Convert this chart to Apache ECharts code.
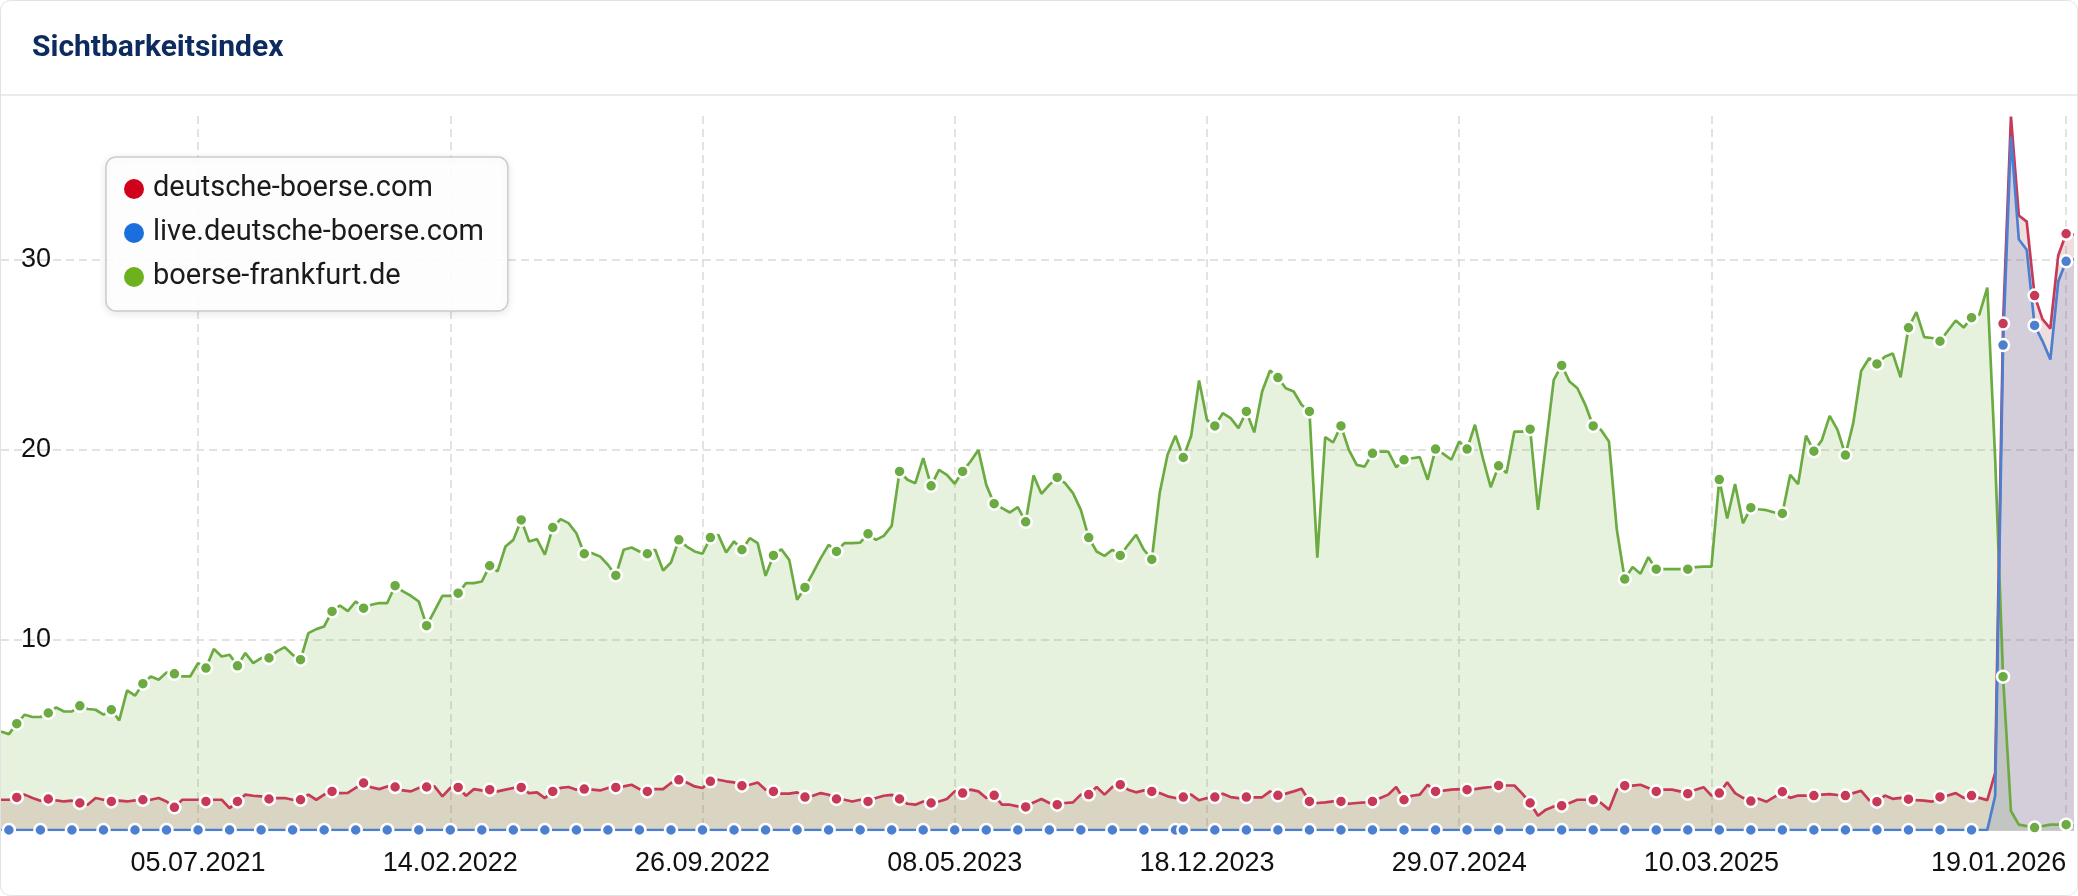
<!DOCTYPE html>
<html><head><meta charset="utf-8">
<script src="https://cdn.jsdelivr.net/npm/echarts@6/dist/echarts.min.js"></script>
<style>html,body{margin:0;padding:0;background:#fff}#chart{width:2078px;height:896px}</style>
</head><body><div id="chart"></div>
<script>
const titleText = 'Sichtbarkeitsindex';
const seriesNames = ['deutsche-boerse.com', 'live.deutsche-boerse.com', 'boerse-frankfurt.de'];
const tickLabels = ['05.07.2021', '14.02.2022', '26.09.2022', '08.05.2023', '18.12.2023', '29.07.2024', '10.03.2025', '19.01.2026'];
const yTicks = [10, 20, 30];
const firstWeek = [2021, 1, 11]; // first weekly data point (Monday)

const boerseFrankfurt = [
  5.18, 5.04, 5.59, 6.06, 5.94, 5.94, 6.15, 6.44, 6.23, 6.23,
  6.53, 6.36, 6.32, 6.06, 6.32, 5.76, 7.34, 7.06, 7.69, 8.07,
  7.90, 8.28, 8.21, 8.07, 8.07, 8.77, 8.51, 9.51, 9.12, 9.21,
  8.63, 9.30, 8.77, 9.04, 9.04, 9.39, 9.61, 9.21, 8.95, 10.35,
  10.56, 10.70, 11.49, 11.80, 11.50, 12.01, 11.66, 11.84, 11.93, 11.93,
  12.84, 12.54, 12.31, 12.01, 10.74, 11.52, 12.31, 12.31, 12.45, 12.98,
  12.98, 13.06, 13.89, 13.59, 14.90, 15.25, 16.30, 15.16, 15.29, 14.47,
  15.90, 16.34, 16.13, 15.60, 14.52, 14.55, 14.38, 13.94, 13.38, 14.73,
  14.85, 14.64, 14.52, 14.73, 13.64, 14.06, 15.25, 14.90, 14.64, 14.52,
  15.37, 15.51, 14.59, 15.17, 14.73, 15.34, 15.08, 13.36, 14.43, 14.76,
  14.20, 12.10, 12.75, 13.50, 14.29, 14.99, 14.64, 15.08, 15.08, 15.11,
  15.57, 15.25, 15.46, 15.99, 18.85, 18.41, 18.23, 19.55, 18.09, 18.93,
  18.67, 18.20, 18.85, 19.37, 19.98, 18.14, 17.15, 16.92, 16.69, 16.97,
  16.20, 18.64, 17.67, 18.14, 18.53, 18.23, 17.71, 16.83, 15.37, 14.64,
  14.41, 14.73, 14.43, 14.99, 15.52, 14.73, 14.22, 17.71, 19.72, 20.72,
  19.58, 20.72, 23.63, 21.56, 21.24, 21.91, 21.65, 21.12, 22.00, 20.90,
  23.05, 24.15, 23.78, 23.22, 23.05, 22.35, 22.00, 14.32, 20.65, 20.37,
  21.24, 19.98, 19.19, 19.10, 19.80, 19.89, 19.89, 19.07, 19.46, 19.54,
  19.60, 18.41, 20.02, 19.77, 19.46, 20.42, 20.02, 21.30, 19.54, 18.02,
  19.14, 18.76, 20.94, 20.94, 21.07, 16.83, 20.24, 23.66, 24.42, 23.57,
  23.22, 22.35, 21.24, 21.03, 20.42, 15.78, 13.19, 13.82, 13.47, 14.34,
  13.71, 13.71, 13.71, 13.71, 13.71, 13.82, 13.84, 13.84, 18.42, 16.37,
  18.18, 16.12, 16.94, 16.86, 16.81, 16.69, 16.64, 18.67, 18.18, 20.73,
  19.91, 20.48, 21.77, 21.03, 19.71, 21.40, 24.13, 24.80, 24.50, 24.87,
  25.05, 23.80, 26.40, 27.22, 25.91, 25.86, 25.69, 26.24, 26.78, 26.41,
  26.93, 27.10, 28.51, 19.50, 8.06, 1.00, 0.28, 0.20, 0.13, 0.20,
  0.28, 0.28, 0.28, 0.25
];

const deutscheBoerse = [
  1.59, 1.59, 1.71, 1.86, 1.68, 1.54, 1.63, 1.56, 1.50, 1.54,
  1.42, 1.33, 1.68, 1.59, 1.50, 1.54, 1.50, 1.56, 1.59, 1.59,
  1.68, 1.50, 1.19, 1.59, 1.59, 1.59, 1.50, 1.59, 1.59, 1.15,
  1.50, 1.86, 1.80, 1.77, 1.63, 1.68, 1.68, 1.59, 1.59, 1.86,
  1.59, 1.86, 2.03, 1.94, 1.95, 2.21, 2.47, 2.24, 2.15, 2.29,
  2.26, 2.08, 2.03, 2.21, 2.26, 2.29, 1.77, 2.21, 2.24, 1.80,
  2.15, 2.08, 2.12, 2.03, 2.12, 2.21, 2.24, 1.94, 1.98, 1.68,
  2.03, 2.21, 2.26, 2.12, 2.15, 2.12, 2.08, 2.21, 2.24, 2.29,
  2.38, 2.15, 2.03, 2.15, 2.15, 2.47, 2.64, 2.50, 2.29, 2.21,
  2.56, 2.64, 2.56, 2.50, 2.33, 2.38, 2.50, 2.12, 2.03, 1.91,
  1.91, 1.98, 1.73, 1.80, 1.94, 1.85, 1.63, 1.59, 1.50, 1.59,
  1.50, 1.68, 1.80, 1.85, 1.63, 1.38, 1.33, 1.50, 1.42, 1.50,
  1.63, 2.03, 1.94, 2.12, 2.03, 1.68, 1.82, 1.33, 1.33, 1.24,
  1.21, 1.45, 1.63, 1.42, 1.33, 1.42, 1.45, 1.86, 1.86, 2.26,
  1.86, 2.26, 2.38, 2.12, 1.98, 2.08, 2.03, 1.94, 1.77, 1.68,
  1.73, 1.86, 1.56, 1.68, 1.73, 1.91, 1.73, 1.68, 1.73, 1.72,
  1.72, 2.03, 1.82, 1.91, 2.03, 2.17, 1.50, 1.42, 1.45, 1.50,
  1.50, 1.38, 1.42, 1.45, 1.50, 1.68, 1.86, 2.26, 1.59, 1.80,
  1.86, 2.38, 2.03, 2.07, 2.12, 2.15, 2.12, 2.15, 2.21, 2.26,
  2.34, 2.34, 2.34, 1.91, 1.42, 0.75, 1.07, 1.24, 1.28, 1.42,
  1.59, 1.59, 1.59, 1.42, 1.07, 2.12, 2.33, 2.33, 2.38, 2.21,
  2.03, 2.12, 2.12, 2.03, 1.91, 2.12, 2.25, 1.81, 1.94, 2.51,
  1.94, 1.69, 1.52, 1.64, 1.49, 1.74, 2.01, 1.69, 1.81, 1.81,
  1.81, 1.86, 1.89, 1.84, 1.81, 1.94, 2.06, 1.57, 1.49, 1.81,
  1.64, 1.69, 1.62, 1.57, 1.54, 1.49, 1.74, 1.81, 1.94, 1.69,
  1.81, 1.69, 1.57, 3.00, 26.62, 37.50, 32.30, 31.98, 28.09, 26.85,
  26.36, 30.20, 31.34, 31.30
];

const liveDeutscheBoerse = [
  0,0,0,0,0,0,0,0,0,0,0,0,0,0,0,0,0,0,0,0,0,0,0,
  0,0,0,0,0,0,0,0,0,0,0,0,0,0,0,0,0,0,0,0,0,0,0,
  0,0,0,0,0,0,0,0,0,0,0,0,0,0,0,0,0,0,0,0,0,0,0,
  0,0,0,0,0,0,0,0,0,0,0,0,0,0,0,0,0,0,0,0,0,0,0,
  0,0,0,0,0,0,0,0,0,0,0,0,0,0,0,0,0,0,0,0,0,0,0,
  0,0,0,0,0,0,0,0,0,0,0,0,0,0,0,0,0,0,0,0,0,0,0,
  0,0,0,0,0,0,0,0,0,0,0,0,0,0,0,0,0,0,0,0,0,0,0,
  0,0,0,0,0,0,0,0,0,0,0,0,0,0,0,0,0,0,0,0,0,0,0,
  0,0,0,0,0,0,0,0,0,0,0,0,0,0,0,0,0,0,0,0,0,0,0,
  0,0,0,0,0,0,0,0,0,0,0,0,0,0,0,0,0,0,0,0,0,0,0,
  0,0,0,0,0,0,0,0,0,0,0,0,0,0,0,0,0,0,0,0,0,0,0,
  1.80, 25.49, 36.45, 31.05, 30.50, 26.52, 25.70, 24.73, 28.83, 29.89, 30.00
];

// weekly category labels (dd.mm.yyyy)
function pad(n) { return (n < 10 ? '0' : '') + n; }
const categories = [];
const t0 = Date.UTC(firstWeek[0], firstWeek[1] - 1, firstWeek[2]);
for (let i = 0; i < boerseFrankfurt.length; i++) {
  const d = new Date(t0 + i * 7 * 86400000);
  categories.push(pad(d.getUTCDate()) + '.' + pad(d.getUTCMonth() + 1) + '.' + d.getUTCFullYear());
}
const lastTick = tickLabels[tickLabels.length - 1];

const RED = '#c73a57', BLUE = '#4d7fd1', GREEN = '#6cab42';
const LABEL_FONT = 'Liberation Sans, Arial, sans-serif';

function markEvery4(v, p) { return p.dataIndex % 4 === 2 ? 'circle' : 'none'; }
function markBlue(v, p) {
  const i = p.dataIndex;
  return (i < 150 ? i % 4 === 1 : i % 4 === 2) ? 'circle' : 'none';
}
function baseSeries(name, data, color, area, symbolFn) {
  return {
    name, type: 'line', data,
    symbol: symbolFn, symbolSize: 12, showAllSymbol: true,
    lineStyle: { color, width: 2.7 },
    itemStyle: { color, borderColor: '#fff', borderWidth: 2.5 },
    areaStyle: { color: area, origin: 'start' },
    emphasis: { disabled: true },
    silent: true, animation: false
  };
}

const chart = echarts.init(document.getElementById('chart'), null, { renderer: 'canvas' });
const isTick = (i, v) => tickLabels.indexOf(v) >= 0;
chart.setOption({
  animation: false,
  backgroundColor: '#ffffff',
  grid: { left: 1, right: 4, top: 116, bottom: 66, containLabel: false, outerBoundsMode: 'none' },
  legend: {
    orient: 'vertical', left: 106, top: 157,
    data: [
      { name: seriesNames[0], itemStyle: { color: '#d0021b', borderWidth: 0 } },
      { name: seriesNames[1], itemStyle: { color: '#1a6fdc', borderWidth: 0 } },
      { name: seriesNames[2], itemStyle: { color: '#6db21e', borderWidth: 0 } }
    ],
    icon: 'circle', itemWidth: 28, itemHeight: 20, itemGap: 12,
    padding: [16, 24, 18, 18],
    backgroundColor: 'rgba(255,255,255,0.92)',
    borderColor: '#cccccc', borderWidth: 1.5, borderRadius: 10,
    shadowBlur: 8, shadowColor: 'rgba(0,0,0,0.10)', shadowOffsetY: 2,
    selectedMode: false,
    textStyle: { fontSize: 29, fontFamily: 'Roboto', color: '#1b1b1b', lineHeight: 32 }
  },
  xAxis: {
    type: 'category', data: categories, boundaryGap: false,
    axisLine: { show: true, lineStyle: { color: '#cccccc', width: 1 } },
    axisTick: { show: false },
    axisLabel: {
      interval: isTick, margin: 20, fontSize: 27, color: '#111', fontFamily: LABEL_FONT,
      formatter: v => v === lastTick ? '{r|' + v + '}' : v,
      rich: { r: { fontSize: 27, color: '#111', fontFamily: LABEL_FONT, padding: [0, 135, 0, 0] } }
    },
    splitLine: { show: true, interval: isTick, lineStyle: { type: [8, 5], color: '#d9d9d9', width: 1.5 } }
  },
  yAxis: {
    type: 'value', min: 0, max: 37.53, interval: 10,
    axisLine: { show: false }, axisTick: { show: false },
    axisLabel: {
      inside: true, margin: 20, fontSize: 27, color: '#111', fontFamily: LABEL_FONT,
      showMinLabel: false, showMaxLabel: false,
      formatter: v => yTicks.indexOf(v) >= 0 ? String(v) : ''
    },
    splitLine: { show: true, showMinLine: false, showMaxLine: false,
      lineStyle: { type: [8, 5], color: '#d9d9d9', width: 1.5 } }
  },
  series: [
    baseSeries(seriesNames[2], boerseFrankfurt, GREEN, 'rgba(110,175,60,0.24)', markEvery4),
    baseSeries(seriesNames[0], deutscheBoerse, RED, 'rgba(160,80,70,0.26)', markEvery4),
    baseSeries(seriesNames[1], liveDeutscheBoerse, BLUE, 'rgba(74,110,200,0.22)', markBlue)
  ],
  graphic: [
    { type: 'line', silent: true, z: 100, shape: { x1: 0, y1: 95, x2: 2078, y2: 95 },
      style: { stroke: '#ebebeb', lineWidth: 2 } },
    { type: 'text', silent: true, z: 100, left: 32, top: 33,
      style: { text: titleText, font: 'bold 30px Roboto', fill: '#0d2b5e' } },
    { type: 'rect', silent: true, z: 100, shape: { x: 0.5, y: 0.5, width: 2077, height: 895, r: 10 },
      style: { fill: 'none', stroke: '#e2e2e2', lineWidth: 1 } }
  ]
});
</script>
</body></html>
